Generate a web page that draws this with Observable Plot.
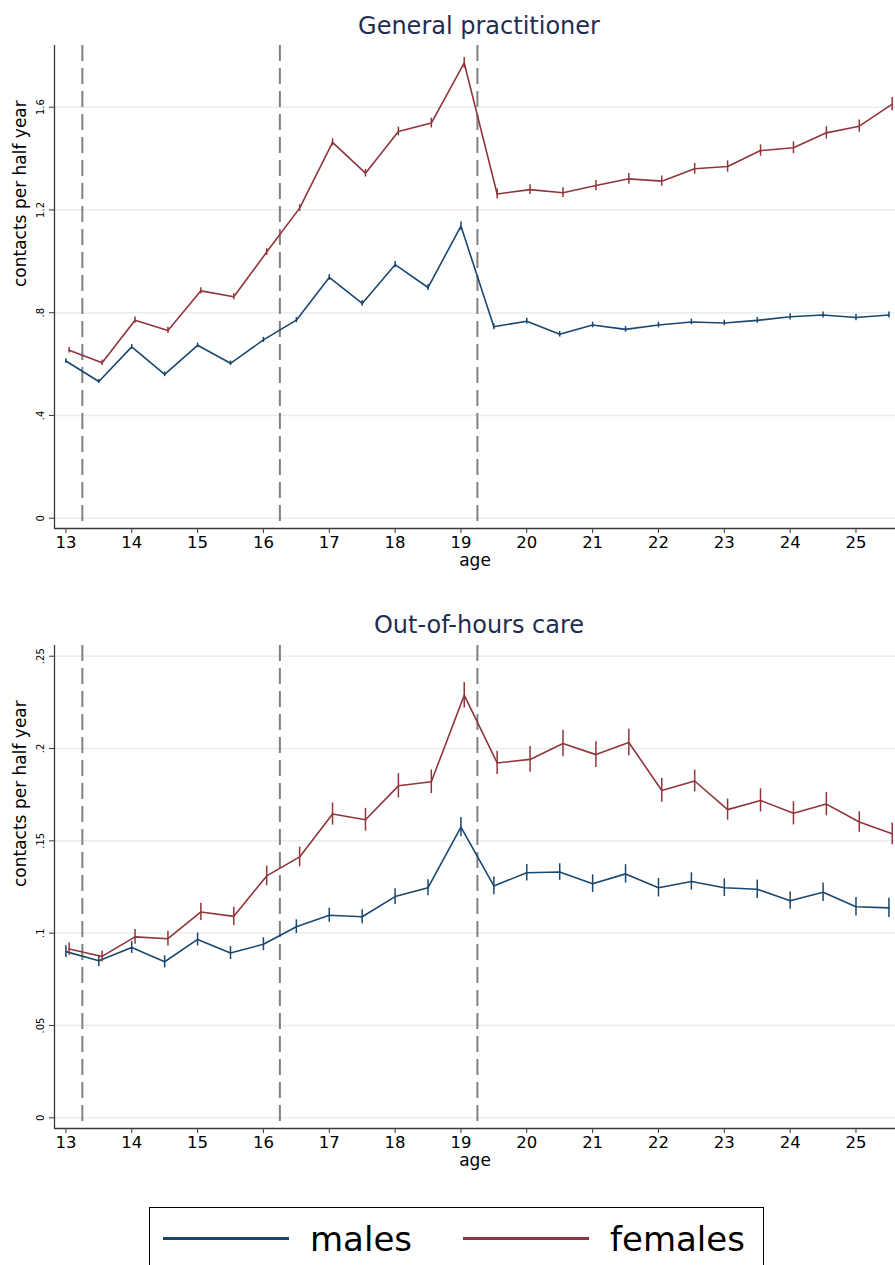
<!DOCTYPE html>
<html>
<head>
<meta charset="utf-8">
<script src="https://cdn.jsdelivr.net/npm/d3@7"></script>
<script src="https://cdn.jsdelivr.net/npm/@observablehq/plot@0.6"></script>
<style>
  body { margin: 0; background: #fff; font-family: "DejaVu Sans", sans-serif; }
  #page { position: relative; width: 895px; height: 1265px; overflow: hidden; background: #fff; }
  .title { position: absolute; transform: translateX(-50%); white-space: nowrap; font-size: 24px; line-height: 28px; color: #1f2d52; }
  .chart { position: absolute; left: 0; }
  #legendBox { position: absolute; left: 149px; top: 1207px; width: 615px; height: 90px; border: 1.5px solid #000; box-sizing: border-box; }
  .swatch { position: absolute; height: 3px; width: 126px; }
  .ltext { position: absolute; font-size: 34px; line-height: 40px; color: #000; white-space: nowrap; }
</style>
</head>
<body>
<div id="page"></div>
<script>
// ---------- data ----------
const ages = [13, 13.5, 14, 14.5, 15, 15.5, 16, 16.5, 17, 17.5, 18, 18.5, 19, 19.5, 20, 20.5, 21, 21.5, 22, 22.5, 23, 23.5, 24, 24.5, 25, 25.5];

const gpMales   = [0.612, 0.532, 0.667, 0.560, 0.673, 0.603, 0.694, 0.771, 0.937, 0.836, 0.987, 0.898, 1.137, 0.745, 0.767, 0.716, 0.752, 0.735, 0.752, 0.764, 0.760, 0.770, 0.784, 0.791, 0.781, 0.791];
const gpFemales = [0.654, 0.605, 0.771, 0.731, 0.885, 0.862, 1.036, 1.207, 1.463, 1.343, 1.505, 1.538, 1.772, 1.262, 1.279, 1.267, 1.295, 1.321, 1.312, 1.360, 1.369, 1.431, 1.442, 1.500, 1.526, 1.612];
const gpMalesCI   = [0.009, 0.008, 0.009, 0.009, 0.009, 0.009, 0.010, 0.010, 0.011, 0.011, 0.012, 0.012, 0.016, 0.011, 0.011, 0.011, 0.011, 0.011, 0.011, 0.011, 0.011, 0.011, 0.012, 0.012, 0.012, 0.012];
const gpFemalesCI = [0.011, 0.011, 0.012, 0.012, 0.012, 0.012, 0.013, 0.013, 0.014, 0.015, 0.017, 0.019, 0.021, 0.019, 0.019, 0.019, 0.020, 0.021, 0.020, 0.021, 0.022, 0.022, 0.023, 0.024, 0.024, 0.026];

const oohMales   = [0.0900, 0.0850, 0.0922, 0.0845, 0.0966, 0.0892, 0.0940, 0.1035, 0.1097, 0.1089, 0.1198, 0.1246, 0.1574, 0.1256, 0.1327, 0.1331, 0.1268, 0.1321, 0.1246, 0.1280, 0.1246, 0.1238, 0.1176, 0.1222, 0.1143, 0.1137];
const oohFemales = [0.0914, 0.0874, 0.0980, 0.0970, 0.1115, 0.1091, 0.1310, 0.1413, 0.1645, 0.1614, 0.1798, 0.1820, 0.2289, 0.1922, 0.1941, 0.2027, 0.1967, 0.2033, 0.1773, 0.1824, 0.1669, 0.1719, 0.1649, 0.1699, 0.1602, 0.1538];
const oohMalesCI   = [0.0032, 0.0030, 0.0032, 0.0033, 0.0035, 0.0035, 0.0035, 0.0037, 0.0038, 0.0038, 0.0043, 0.0043, 0.0052, 0.0048, 0.0045, 0.0045, 0.0048, 0.0050, 0.0050, 0.0047, 0.0048, 0.0050, 0.0047, 0.0050, 0.0050, 0.0052];
const oohFemalesCI = [0.0033, 0.0030, 0.0040, 0.0040, 0.0047, 0.0050, 0.0053, 0.0053, 0.0060, 0.0062, 0.0066, 0.0064, 0.0069, 0.0063, 0.0070, 0.0072, 0.0070, 0.0072, 0.0064, 0.0059, 0.0057, 0.0063, 0.0063, 0.0063, 0.0056, 0.0059];

const cutoffs = [13.25, 16.25, 19.25];
const xTicks = [13, 14, 15, 16, 17, 18, 19, 20, 21, 22, 23, 24, 25];
const gpYTicks = [0, 0.4, 0.8, 1.2, 1.6];
const gpYTickLabels = ["0", ".4", ".8", "1.2", "1.6"];
const oohYTicks = [0, 0.05, 0.1, 0.15, 0.2, 0.25];
const oohYTickLabels = ["0", ".05", ".1", ".15", ".2", ".25"];
const panelTitles = ["General practitioner", "Out-of-hours care"];
const seriesNames = ["males", "females"];
const seriesColors = ["#1a476f", "#90353b"];
const femaleShift = 0.05;
const xLabel = "age";
const yLabel = "contacts per half year";

// ---------- layout ----------
const xDomain = [12.827, 25.6];
const gpYDomain = [-0.04, 1.84];
const oohYDomain = [-0.0058, 0.2558];

function makeChart(males, females, malesCI, femalesCI, yDomain, yTicks, yLabels) {
  const series = [
    {vals: males, ci: malesCI, shift: 0, color: seriesColors[0]},
    {vals: females, ci: femalesCI, shift: femaleShift, color: seriesColors[1]}
  ];
  const seriesMarks = [];
  for (const s of series) {
    const rows = ages.map((a, i) => ({x: a + s.shift, y: s.vals[i], lo: s.vals[i] - s.ci[i], hi: s.vals[i] + s.ci[i]}));
    seriesMarks.push(Plot.ruleX(rows, {x: "x", y1: "lo", y2: "hi", stroke: s.color, strokeWidth: 1.5}));
    seriesMarks.push(Plot.line(rows, {x: "x", y: "y", stroke: s.color, strokeWidth: 1.6}));
  }
  return Plot.plot({
    width: 895, height: 533,
    marginLeft: 54, marginRight: 0, marginTop: 0, marginBottom: 50,
    x: {domain: xDomain},
    y: {domain: yDomain},
    style: {fontFamily: "DejaVu Sans", color: "#000", background: "transparent", overflow: "visible"},
    marks: [
      Plot.gridY(yTicks, {stroke: "#e6eef0", strokeOpacity: 1, strokeWidth: 1.5}),
      Plot.ruleX(cutoffs, {stroke: "#808080", strokeWidth: 2, strokeDasharray: "16,7"}),
      ...seriesMarks,
      Plot.ruleY([yDomain[0]], {stroke: "#3a3a3a", strokeWidth: 1.3}),
      Plot.ruleX([xDomain[0]], {stroke: "#3a3a3a", strokeWidth: 1.3}),
      Plot.axisX({ticks: xTicks, tickSize: 5, tickPadding: 3, tickFormat: d => String(d), fontSize: 16.5, label: null, stroke: "#3a3a3a"}),
      Plot.axisY({ticks: yTicks, tickFormat: d => yLabels[yTicks.indexOf(d)], tickRotate: -90, tickSize: 5, tickPadding: 6, fontSize: 10, label: null, stroke: "#3a3a3a"}),
      Plot.text([xLabel], {text: d => d, frameAnchor: "bottom", dy: 37, fontSize: 17}),
      Plot.text([yLabel], {text: d => d, frameAnchor: "left", dx: -34, rotate: -90, fontSize: 17})
    ]
  });
}

const page = document.getElementById("page");

function addTitle(text, top) {
  const t = document.createElement("div");
  t.className = "title";
  t.style.left = "479px";
  t.style.top = top + "px";
  t.textContent = text;
  page.appendChild(t);
}

addTitle(panelTitles[0], 12);
const c1 = makeChart(gpMales, gpFemales, gpMalesCI, gpFemalesCI, gpYDomain, gpYTicks, gpYTickLabels);
c1.classList.add("chart");
c1.style.top = "45px";
page.appendChild(c1);

addTitle(panelTitles[1], 611);
const c2 = makeChart(oohMales, oohFemales, oohMalesCI, oohFemalesCI, oohYDomain, oohYTicks, oohYTickLabels);
c2.classList.add("chart");
c2.style.top = "645px";
page.appendChild(c2);

// legend
const box = document.createElement("div");
box.id = "legendBox";
page.appendChild(box);
const legendSwatchX = [163, 463];
const legendTextX = [310, 610];
seriesNames.forEach((name, i) => {
  const sw = document.createElement("div");
  sw.className = "swatch";
  sw.style.left = legendSwatchX[i] + "px";
  sw.style.top = "1237px";
  sw.style.background = seriesColors[i];
  page.appendChild(sw);
  const tx = document.createElement("div");
  tx.className = "ltext";
  tx.style.left = legendTextX[i] + "px";
  tx.style.top = "1219px";
  tx.textContent = name;
  page.appendChild(tx);
});
</script>
</body>
</html>
